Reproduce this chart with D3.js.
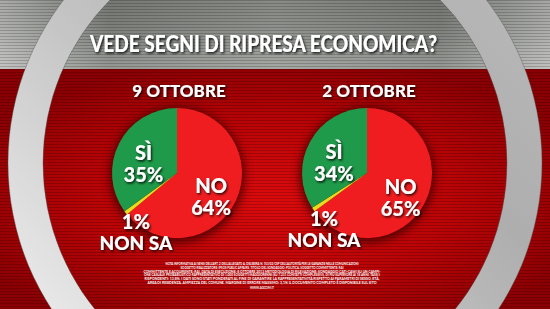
<!DOCTYPE html>
<html>
<head>
<meta charset="utf-8">
<script src="https://cdn.jsdelivr.net/npm/d3@7"></script>
<style>
  html, body { margin: 0; padding: 0; background: #000; }
  svg { display: block; }
</style>
</head>
<body>
<div id="chart"></div>
<script>
// chart data
const title = "VEDE SEGNI DI RIPRESA ECONOMICA?";
const dates = ["9 OTTOBRE", "2 OTTOBRE"];
const categories = ["NO", "NON SA", "SÌ"];
const values9 = [64, 1, 35];
const values2 = [65, 1, 34];
const series = [values9, values2];
const footnote = [
  "NOTA INFORMATIVA AI SENSI DELL'ART. 2 DELL'ALLEGATO A, DELIBERA N. 153/02/CSP DELL'AUTORITÀ PER LE GARANZIE NELLE COMUNICAZIONI",
  "SOGGETTO REALIZZATORE: IPSOS PUBLIC AFFAIRS. TITOLO DEL SONDAGGIO: POLITICA. SOGGETTO COMMITTENTE: RAI",
  "COMMITTENTE E ACQUIRENTE: RAI. DATA DI ESECUZIONE: 8 OTTOBRE 2013 METODOLOGIA DI RILEVAZIONE: SONDAGGIO CATI-CAWI SU UN CAMPI-",
  "ONE CASUALE PROBABILISTICO RAPPRESENTATIVO DI 1.000 SOGGETTI MAGGIORENNI (SU 7.231 CONTATTI COMPLESSIVI), DI PIÙ SUPERIORE AI 18 ANNI. TASSI I",
  "RISPONDENTI: 13,8%. I DATI SONO STATI PONDERATI AL FINE DI GARANTIRE LA RAPPRESENTATIVITÀ RISPETTO AI PARAMETRI DI SESSO, ETÀ,",
  "AREA DI RESIDENZA, AMPIEZZA DEL COMUNE. MARGINE DI ERRORE MASSIMO: 3,1% IL DOCUMENTO COMPLETO È DISPONIBILE SUL SITO",
  "WWW.AGCOM.IT"
];

const W = 550, H = 309;
const colors = d3.scaleOrdinal().domain(categories).range(["#f01d20", "#e6dc1e", "#1f9a4a"]);
const font = "Lato, 'Open Sans', 'DejaVu Sans', sans-serif";

const svg = d3.select("#chart").append("svg")
  .attr("width", W).attr("height", H);
const defs = svg.append("defs");

// gradients
const grayGrad = defs.append("linearGradient").attr("id", "grayGrad")
  .attr("x1", 0).attr("x2", 1).attr("y1", 0).attr("y2", 0);
grayGrad.append("stop").attr("offset", "0%").attr("stop-color", "#b4b5b2");
grayGrad.append("stop").attr("offset", "20%").attr("stop-color", "#7b7e79");
grayGrad.append("stop").attr("offset", "50%").attr("stop-color", "#8f928d");
grayGrad.append("stop").attr("offset", "80%").attr("stop-color", "#7b7e79");
grayGrad.append("stop").attr("offset", "100%").attr("stop-color", "#b0b1ae");

const grayV = defs.append("linearGradient").attr("id", "grayV")
  .attr("x1", 0).attr("x2", 0).attr("y1", 0).attr("y2", 1);
grayV.append("stop").attr("offset", "0%").attr("stop-color", "#000").attr("stop-opacity", 0.05);
grayV.append("stop").attr("offset", "75%").attr("stop-color", "#fff").attr("stop-opacity", 0.12);
grayV.append("stop").attr("offset", "100%").attr("stop-color", "#fff").attr("stop-opacity", 0.2);

const redGrad = defs.append("radialGradient").attr("id", "redGrad")
  .attr("cx", "50%").attr("cy", "55%").attr("r", "60%");
redGrad.append("stop").attr("offset", "0%").attr("stop-color", "#dc0b0d");
redGrad.append("stop").attr("offset", "55%").attr("stop-color", "#b90406");
redGrad.append("stop").attr("offset", "100%").attr("stop-color", "#8a0002");

const ringGrad = defs.append("linearGradient").attr("id", "ringGrad")
  .attr("x1", 0.1).attr("y1", 0.9).attr("x2", 0.9).attr("y2", 0.1);
ringGrad.append("stop").attr("offset", "0%").attr("stop-color", "#eeeeee");
ringGrad.append("stop").attr("offset", "40%").attr("stop-color", "#c6c6c6");
ringGrad.append("stop").attr("offset", "70%").attr("stop-color", "#aeaeae");
ringGrad.append("stop").attr("offset", "100%").attr("stop-color", "#b8b8b8");

const stripes = defs.append("pattern").attr("id", "stripes")
  .attr("width", 4).attr("height", 3).attr("patternUnits", "userSpaceOnUse");
stripes.append("rect").attr("width", 4).attr("height", 1).attr("fill", "#000").attr("opacity", 0.18);

const shadow = defs.append("filter").attr("id", "shadow")
  .attr("x", "-20%").attr("y", "-20%").attr("width", "140%").attr("height", "140%");
shadow.append("feDropShadow").attr("dx", 1.2).attr("dy", 1.5).attr("stdDeviation", 0.8)
  .attr("flood-color", "#000").attr("flood-opacity", 0.85);

const blur = defs.append("filter").attr("id", "blur")
  .attr("x", "-30%").attr("y", "-30%").attr("width", "160%").attr("height", "160%");
blur.append("feGaussianBlur").attr("stdDeviation", 4);

// background
const bandY = 69;
svg.append("rect").attr("width", W).attr("height", bandY).attr("fill", "url(#grayGrad)");
svg.append("rect").attr("width", W).attr("height", bandY).attr("fill", "url(#grayV)");
svg.append("rect").attr("y", bandY).attr("width", W).attr("height", H - bandY).attr("fill", "url(#redGrad)");
svg.append("rect").attr("width", W).attr("height", H).attr("fill", "url(#stripes)");

// metal ring
const ringCx = 275, ringCy = 163;
const ring = d3.arc().innerRadius(232).outerRadius(267).startAngle(0).endAngle(2 * Math.PI);
svg.append("path")
  .attr("transform", `translate(${ringCx},${ringCy})`)
  .attr("d", ring())
  .attr("fill", "url(#ringGrad)")
  .attr("stroke", "#555")
  .attr("stroke-opacity", 0.5)
  .attr("stroke-width", 0.8);

// title
svg.append("text")
  .attr("x", 90).attr("y", 52)
  .attr("textLength", 347).attr("lengthAdjust", "spacingAndGlyphs")
  .attr("font-family", font).attr("font-weight", 900).attr("font-size", 22)
  .attr("fill", "#fff").attr("filter", "url(#shadow)")
  .text(title);

// pies
const r = 65;
const pieCx = [177, 367], pieCy = 173;
const pie = d3.pie().sort(null).value(d => d);
const arc = d3.arc().innerRadius(0).outerRadius(r);
const inArc = d3.arc().innerRadius(r * 0.58).outerRadius(r * 0.58);
const outArc = d3.arc().innerRadius(r * 0.8).outerRadius(r * 0.8);

series.forEach((vals, i) => {
  const g = svg.append("g").attr("transform", `translate(${pieCx[i]},${pieCy})`);

  g.append("text")
    .attr("x", 2).attr("y", -76)
    .attr("text-anchor", "middle")
    .attr("font-family", font).attr("font-weight", 900).attr("font-size", 17)
    .attr("fill", "#fff").attr("filter", "url(#shadow)")
    .text(dates[i]);

  g.append("circle").attr("r", r + 3).attr("cy", 2)
    .attr("fill", "#400").attr("opacity", 0.8).attr("filter", "url(#blur)");

  const arcs = pie(vals);
  g.selectAll("path.slice")
    .data(arcs)
    .join("path")
    .attr("class", "slice")
    .attr("d", arc)
    .attr("fill", (d, j) => colors(categories[j]));

  arcs.forEach((d, j) => {
    const cat = categories[j];
    const small = d.value < 5;
    const c = small ? outArc.centroid(d) : inArc.centroid(d);
    const lines = small ? [d.value + "%", cat] : [cat, d.value + "%"];
    const offs = small ? [24, 45] : [4, 26];
    lines.forEach((t, k) => {
      g.append("text")
        .attr("x", c[0]).attr("y", c[1] + offs[k])
        .attr("text-anchor", "middle")
        .attr("font-family", font).attr("font-weight", 900)
        .attr("font-size", small && k === 1 ? 19 : 20)
        .attr("fill", "#fff").attr("filter", "url(#shadow)")
        .text(t);
    });
  });
});

// footnote
const fnY = [265, 269, 272.5, 276.3, 280.2, 284, 288.5];
const fnW = [193, 163, 237, 236, 235, 229, 24];
svg.append("g").selectAll("text")
  .data(footnote)
  .join("text")
  .attr("x", 275 - 13).attr("y", (d, i) => fnY[i])
  .attr("text-anchor", "middle")
  .attr("textLength", (d, i) => fnW[i]).attr("lengthAdjust", "spacingAndGlyphs")
  .attr("font-family", font).attr("font-weight", "bold").attr("font-size", 3.6)
  .attr("fill", "#fff")
  .text(d => d);
</script>
</body>
</html>
